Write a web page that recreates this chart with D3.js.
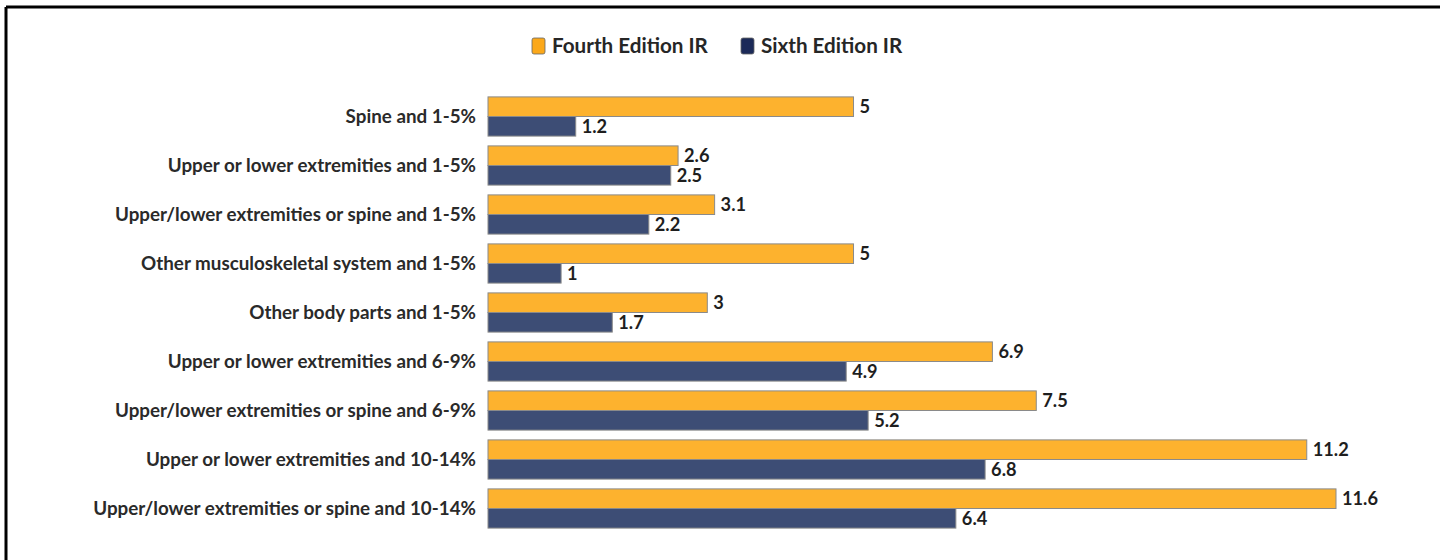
<!DOCTYPE html>
<html>
<head>
<meta charset="utf-8">
<script src="https://cdn.jsdelivr.net/npm/d3@7"></script>
<style>
  html, body { margin: 0; padding: 0; background: #fff; }
  svg { display: block; }
  text { font-family: Lato, "Open Sans", sans-serif; }
</style>
</head>
<body>
<svg id="chart" width="1440" height="560"></svg>
<script>
const categories = [
  "Spine and 1-5%",
  "Upper or lower extremities and 1-5%",
  "Upper/lower extremities or spine and 1-5%",
  "Other musculoskeletal system and 1-5%",
  "Other body parts and 1-5%",
  "Upper or lower extremities and 6-9%",
  "Upper/lower extremities or spine and 6-9%",
  "Upper or lower extremities and 10-14%",
  "Upper/lower extremities or spine and 10-14%"
];
const seriesNames = ["Fourth Edition IR", "Sixth Edition IR"];
const fourthEdition = [5, 2.6, 3.1, 5, 3, 6.9, 7.5, 11.2, 11.6];
const sixthEdition = [1.2, 2.5, 2.2, 1, 1.7, 4.9, 5.2, 6.8, 6.4];

const colors = { "Fourth Edition IR": "#FDB22E", "Sixth Edition IR": "#3D4D75" };
const legendColors = { "Fourth Edition IR": "#FBA81A", "Sixth Edition IR": "#1C2A58" };

const svg = d3.select("#chart");

// find a font size so that a string spans the wanted width
function fitSize(str, weight, targetWidth) {
  const t = svg.append("text").attr("font-size", 20).attr("font-weight", weight).text(str);
  const w = t.node().getComputedTextLength();
  t.remove();
  return 20 * targetWidth / w;
}

// frame lines along the top and left
svg.append("line").attr("x1", 6).attr("x2", 1440).attr("y1", 7).attr("y2", 7)
  .attr("stroke", "#000").attr("stroke-width", 3);
svg.append("line").attr("x1", 6).attr("x2", 6).attr("y1", 7).attr("y2", 560)
  .attr("stroke", "#000").attr("stroke-width", 3);

const x = d3.scaleLinear().domain([0, 11.6]).range([488, 1336]);
const y = d3.scaleBand().domain(categories).range([92, 533]).paddingInner(0.2).paddingOuter(0.1);
const ySub = d3.scaleBand().domain(seriesNames).range([0, y.bandwidth()]);

const data = categories.map((c, i) => ({ cat: c, vals: [
  { s: seriesNames[0], v: fourthEdition[i] },
  { s: seriesNames[1], v: sixthEdition[i] }
]}));

const catSize = fitSize(categories[8], "bold", 383);
const valSize = fitSize("11.6", "bold", 36);
const legSize = fitSize(seriesNames[0], "bold", 156);

const groups = svg.append("g").selectAll("g").data(data).join("g")
  .attr("transform", d => `translate(0,${y(d.cat)})`);

groups.selectAll("rect").data(d => d.vals).join("rect")
  .attr("x", x(0))
  .attr("y", d => ySub(d.s))
  .attr("width", d => x(d.v) - x(0))
  .attr("height", ySub.bandwidth())
  .attr("fill", d => colors[d.s])
  .attr("stroke", "#8a8a8a")
  .attr("stroke-width", 1);

groups.selectAll("text.val").data(d => d.vals).join("text")
  .attr("class", "val")
  .attr("x", d => x(d.v) + 6)
  .attr("y", d => ySub(d.s) + ySub.bandwidth() / 2)
  .attr("dy", "0.36em")
  .attr("font-size", valSize)
  .attr("font-weight", "bold")
  .attr("fill", "#1e1e1e")
  .text(d => d.v);

// category axis labels
svg.append("g").selectAll("text").data(categories).join("text")
  .attr("x", 476)
  .attr("y", d => y(d) + y.bandwidth() / 2)
  .attr("dy", "0.36em")
  .attr("text-anchor", "end")
  .attr("font-size", catSize)
  .attr("font-weight", "bold")
  .attr("fill", "#2a2a2a")
  .text(d => d);

// legend
const legendX = [532, 741];
const legend = svg.append("g").selectAll("g").data(seriesNames).join("g")
  .attr("transform", (d, i) => `translate(${legendX[i]},38)`);
legend.append("rect").attr("width", 13).attr("height", 16).attr("rx", 2)
  .attr("fill", d => legendColors[d]).attr("stroke", "#666").attr("stroke-width", 0.8);
legend.append("text").attr("x", 20).attr("y", 8).attr("dy", "0.36em")
  .attr("font-size", legSize).attr("font-weight", "bold").attr("fill", "#262626")
  .text(d => d);
</script>
</body>
</html>
